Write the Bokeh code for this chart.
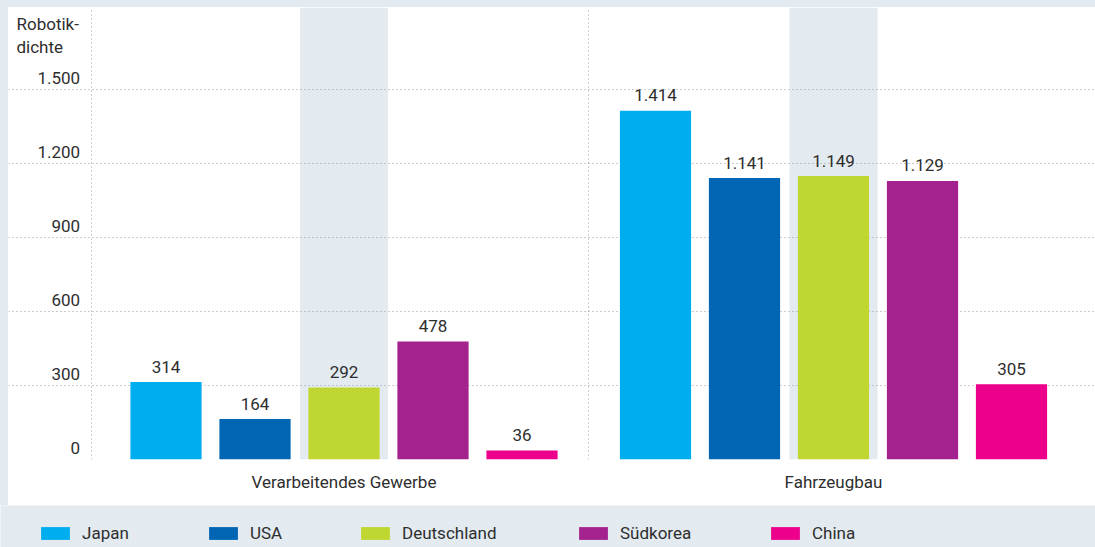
from bokeh.plotting import figure
from bokeh.models import (ColumnDataSource, Range1d, LinearAxis, FixedTicker, Grid,
                          Label, Legend, LegendItem, Spacer)
from bokeh.layouts import column, row
from bokeh.embed import file_html
from bokeh.resources import INLINE
from bokeh.core.properties import value

# ---------------- data ----------------
SECTORS = ["Verarbeitendes Gewerbe", "Fahrzeugbau"]
COUNTRIES = ["Japan", "USA", "Deutschland", "Südkorea", "China"]
MANUFACTURING = [314, 164, 292, 478, 36]
AUTOMOTIVE = [1414, 1141, 1149, 1129, 305]
Y_TICKS = [0, 300, 600, 900, 1200, 1500]
Y_TICK_LABELS = ["0", "300", "600", "900", "1.200", "1.500"]
Y_TITLE = ["Robotik-", "dichte"]
COLORS = ["#00adef", "#0066b3", "#bfd730", "#a3228e", "#ec008c"]

# ---------------- style ----------------
FONT = "Roboto"
FS = "17px"
TEXT = "#2e2e2e"
BG = "#e3ebf1"
GRID = "#9a9a9a"
GROUP_GAP = 5.5
BAR_W = 0.8
PX = 89.0                      # pixels per bar slot
X0 = -1.7697
X1 = X0 + 1087 / PX
Y_END = 1832.4
LAB_SHIFT = 45                 # tick labels sit above the grid lines
VAL_SHIFT = 63                 # value labels sit above the bars


def de_format(v):
    return f"{v:,}".replace(",", ".")


series = [MANUFACTURING, AUTOMOTIVE]
xs, tops, cols, labels = [], [], [], []
for g, vals in enumerate(series):
    for i, v in enumerate(vals):
        xs.append(g * GROUP_GAP + i)
        tops.append(v)
        cols.append(COLORS[i])
        labels.append(de_format(v))
src = ColumnDataSource(dict(x=xs, top=tops, color=cols, label=labels))

group_centers = [g * GROUP_GAP + 2 for g in range(len(SECTORS))]
band_centers = [g * GROUP_GAP + COUNTRIES.index("Deutschland") for g in range(len(SECTORS))]

p = figure(width=1087, height=498, x_range=Range1d(X0, X1), y_range=Range1d(0, Y_END),
           toolbar_location=None, output_backend="svg",
           min_border_left=0, min_border_right=0, min_border_top=0, min_border_bottom=46,
           y_axis_location=None, background_fill_color="white", border_fill_color="white",
           outline_line_color=None)
p.grid.visible = False
p.extra_y_ranges = {"lab": Range1d(0 - LAB_SHIFT, Y_END - LAB_SHIFT),
                    "val": Range1d(0 - VAL_SHIFT, Y_END - VAL_SHIFT)}

# shaded bands behind Deutschland bars
p.quad(left=[c - 0.495 for c in band_centers], right=[c + 0.495 for c in band_centers],
       bottom=0, top=Y_END, fill_color=BG, line_color=None, level="image")

# grids
p.add_layout(Grid(dimension=1, ticker=FixedTicker(ticks=Y_TICKS), grid_line_color=GRID,
                  grid_line_dash="1 3", grid_line_width=1))
p.add_layout(Grid(dimension=0, ticker=FixedTicker(ticks=[-0.84, (4 + GROUP_GAP) / 2]),
                  grid_line_color=GRID, grid_line_dash="1 3", grid_line_width=1))

# bars + value labels
p.vbar(x="x", top="top", bottom=0, width=BAR_W, fill_color="color", line_color=None, source=src)
p.text(x="x", y="top", text="label", y_range_name="val", text_align="center",
       text_baseline="alphabetic", text_font=value(FONT), text_font_size=FS,
       text_color=TEXT, source=src)

# x axis (category labels)
p.xaxis.ticker = FixedTicker(ticks=group_centers)
p.xaxis.major_label_overrides = {c: s for c, s in zip(group_centers, SECTORS)}
p.xaxis.axis_line_color = None
p.xaxis.major_tick_line_color = None
p.xaxis.minor_tick_line_color = None
p.xaxis.major_tick_out = 0
p.xaxis.major_tick_in = 0
p.xaxis.major_label_standoff = 12
p.xaxis.major_label_text_font = FONT
p.xaxis.major_label_text_font_size = FS
p.xaxis.major_label_text_color = TEXT

# y axis inside the frame
yaxis = LinearAxis(y_range_name="lab", fixed_location=-0.92,
                   ticker=FixedTicker(ticks=Y_TICKS),
                   major_label_overrides={t: l for t, l in zip(Y_TICKS, Y_TICK_LABELS)},
                   axis_line_color=None, major_tick_line_color=None,
                   minor_tick_line_color=None, major_tick_out=0, major_tick_in=0,
                   major_label_standoff=4, major_label_text_font=FONT,
                   major_label_text_font_size=FS, major_label_text_color=TEXT)
p.add_layout(yaxis, "left")

# y title
for txt, yv in zip(Y_TITLE, [1766, 1673]):
    p.add_layout(Label(x=-1.68, y=yv, text=txt, text_font=FONT, text_font_size=FS,
                       text_color=TEXT, text_baseline="alphabetic", text_align="left"))

# ---------------- legend strip ----------------
leg = figure(width=1095, height=42, x_range=Range1d(0, 1), y_range=Range1d(0, 1),
             toolbar_location=None, output_backend="svg", min_border=0,
             x_axis_location=None, y_axis_location=None,
             background_fill_color=BG, border_fill_color=BG, outline_line_color=None)
leg.grid.visible = False
LEG_X = [37, 205, 357, 575, 767]
for name, c, lx in zip(COUNTRIES, COLORS, LEG_X):
    r = leg.vbar(x=[-10], top=[0], width=0.5, fill_color=c, line_color=None)
    lg = Legend(items=[LegendItem(label=name, renderers=[r])], location=(lx, 4),
                orientation="horizontal", glyph_width=36, glyph_height=16,
                label_standoff=9, padding=0, margin=0, spacing=0,
                background_fill_alpha=0, border_line_color=None,
                label_text_font=FONT, label_text_font_size=FS,
                label_text_color=TEXT)
    leg.add_layout(lg, "center")

top_pad = Spacer(width=1095, height=7, styles={"background-color": BG})
left_pad = Spacer(width=8, height=498, styles={"background-color": BG})

layout = column(top_pad, row(left_pad, p, spacing=0), leg, spacing=0)
open("out.html", "w").write(file_html(layout, INLINE))
